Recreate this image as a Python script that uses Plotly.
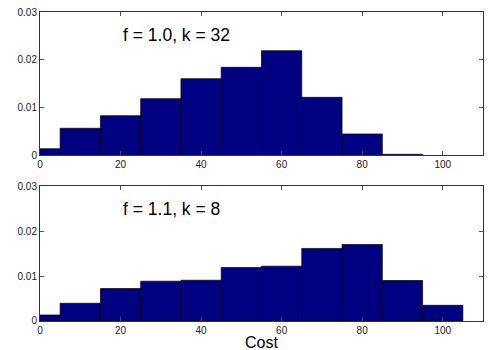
import plotly.graph_objects as go

bin_centers = [0, 10, 20, 30, 40, 50, 60, 70, 80, 90, 100]
top_values = [0.00142, 0.00569, 0.00832, 0.01188, 0.01606, 0.01844, 0.02191, 0.01216, 0.0045, 0.00025, None]
bottom_values = [0.00134, 0.00395, 0.00723, 0.00886, 0.00908, 0.01192, 0.01221, 0.01616, 0.01705, 0.00902, 0.0035]
top_label = "f = 1.0, k = 32"
bottom_label = "f = 1.1, k = 8"
x_ticks = [0, 20, 40, 60, 80, 100]
y_ticks = [0, 0.01, 0.02, 0.03]
y_tick_text = ["0", "0.01", "0.02", "0.03"]

fig = go.Figure()
bar_style = dict(width=10, marker=dict(color="#000080", line=dict(color="#000000", width=0.7)), showlegend=False)
fig.add_trace(go.Bar(x=bin_centers, y=top_values, xaxis="x", yaxis="y", **bar_style))
fig.add_trace(go.Bar(x=bin_centers, y=bottom_values, xaxis="x2", yaxis="y2", **bar_style))

tick_font = dict(family="Liberation Sans, Arial, sans-serif", size=10, color="#222")
xax = dict(range=[0, 110], tickvals=x_ticks, ticks="inside", ticklen=4, tickcolor="#555",
           showline=True, linecolor="#333", linewidth=1, mirror="ticks", showgrid=False,
           zeroline=False, tickfont=tick_font, fixedrange=True, automargin=False)
yax = dict(range=[0, 0.03], tickvals=y_ticks, ticktext=y_tick_text, ticks="inside", ticklen=4,
           tickcolor="#555", showline=True, linecolor="#333", linewidth=1, mirror="ticks",
           showgrid=False, zeroline=False, tickfont=tick_font, fixedrange=True, automargin=False)

fig.update_layout(
    width=500, height=350,
    margin=dict(l=40, r=17, t=12, b=29),
    plot_bgcolor="white", paper_bgcolor="white",
    bargap=0,
    xaxis=dict(**xax, domain=[0, 1], anchor="y"),
    yaxis=dict(**yax, domain=[0.5356, 1], anchor="x"),
    xaxis2=dict(**xax, domain=[0, 1], anchor="y2"),
    yaxis2=dict(**yax, domain=[0, 0.4359], anchor="x2"),
    font=dict(family="Liberation Sans, Arial, sans-serif"),
)
label_font = dict(family="Liberation Sans, Arial, sans-serif", size=17.5, color="#000")
fig.add_annotation(x=20, y=0.0252, xref="x", yref="y", text=top_label, showarrow=False,
                   xanchor="left", yanchor="middle", font=label_font)
fig.add_annotation(x=20, y=0.0249, xref="x2", yref="y2", text=bottom_label, showarrow=False,
                   xanchor="left", yanchor="middle", font=label_font)
fig.add_annotation(x=0.5, y=-0.034, xref="paper", yref="paper", text="Cost", showarrow=False,
                   xanchor="center", yanchor="top", font=dict(family="Liberation Sans, Arial, sans-serif", size=16, color="#000"))

fig.write_html("out.html", config={"displayModeBar": False, "staticPlot": True},
               post_script="document.body.style.margin='0';document.body.style.overflow='hidden';")
